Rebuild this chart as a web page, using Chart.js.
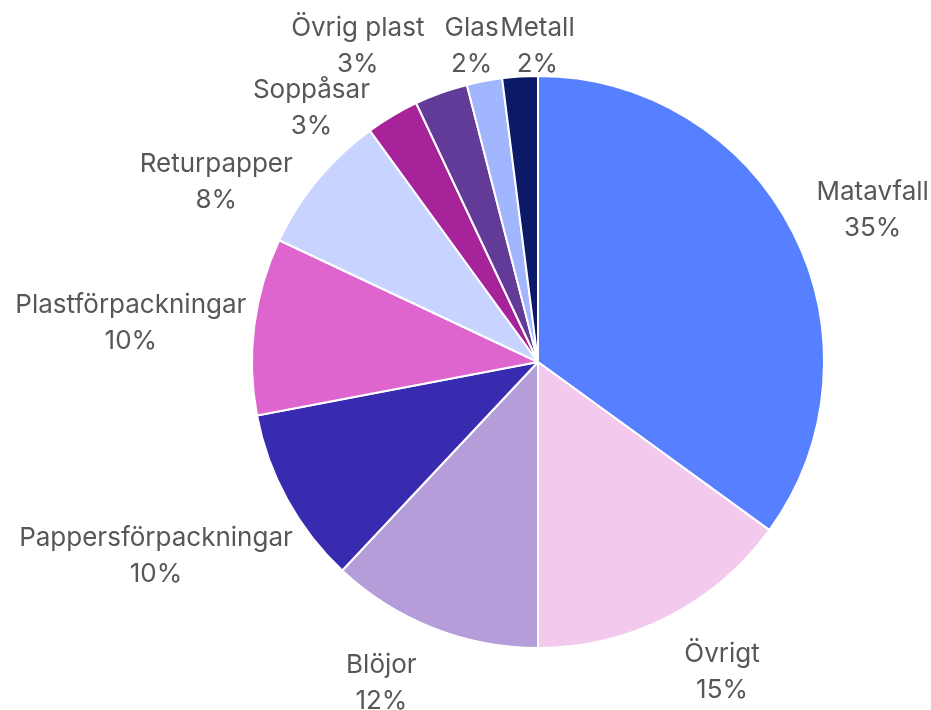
<!DOCTYPE html>
<html>
<head>
<meta charset="utf-8">
<script src="https://cdn.jsdelivr.net/npm/chart.js@4/dist/chart.umd.min.js"></script>
<style>
html,body{margin:0;padding:0;background:#fff;}
#wrap{width:931px;height:710px;position:relative;}
</style>
</head>
<body>
<div id="wrap"><canvas id="c" width="931" height="710"></canvas></div>
<script>
const categories = ["Matavfall","Övrigt","Blöjor","Pappersförpackningar","Plastförpackningar","Returpapper","Soppåsar","Övrig plast","Glas","Metall"];
const values = [35,15,12,10,10,8,3,3,2,2];
const colors = ["#5680FF","#F3CAEE","#B49DD8","#392BB0","#DE64CE","#C8D4FF","#A6239A","#623A98","#A2B5FF","#0B1966"];
// per-label nudges (pixels) applied after the radial placement
const labelNudges = [[12,-2],[28,11],[-31,9],[6,32],[11,1],[-27,31],[-41,32],[-54,-4],[-4,10],[21,15]];

const outsideLabels = {
  id:'outsideLabels',
  afterDatasetsDraw(chart, args, opts){
    const ctx = chart.ctx;
    const meta = chart.getDatasetMeta(0);
    const total = values.reduce((a,b)=>a+b,0);
    ctx.save();
    ctx.font = '26px Inter, "Noto Sans", sans-serif';
    ctx.fillStyle = '#575757';
    ctx.textAlign = 'center';
    ctx.textBaseline = 'alphabetic';
    const lh = 36, cap = 19;
    meta.data.forEach((arc,i)=>{
      const p = arc.getProps(['x','y','startAngle','endAngle','outerRadius'], true);
      const mid = (p.startAngle + p.endAngle)/2;
      const c = Math.cos(mid), s = Math.sin(mid);
      const l1 = chart.data.labels[i];
      const l2 = Math.round(values[i]/total*100) + '%';
      const w = Math.max(ctx.measureText(l1).width, ctx.measureText(l2).width);
      const h = lh + cap;
      const g = opts.gap;
      let x = p.x + (p.outerRadius + g)*c + c*w/2;
      let y = p.y + (p.outerRadius + g)*s + s*h/2;
      x += labelNudges[i][0]; y += labelNudges[i][1];
      ctx.fillText(l1, x, y - lh/2 + cap/2);
      ctx.fillText(l2, x, y + lh/2 + cap/2);
    });
    ctx.restore();
  }
};

new Chart(document.getElementById('c'), {
  type:'pie',
  data:{labels:categories, datasets:[{data:values, backgroundColor:colors, borderColor:'#ffffff', borderWidth:2, hoverOffset:0}]},
  options:{
    responsive:false, animation:false,
    layout:{padding:{left:251,right:106,top:75,bottom:61}},
    plugins:{legend:{display:false}, tooltip:{enabled:false}, outsideLabels:{gap:20}}
  },
  plugins:[outsideLabels]
});
</script>
</body>
</html>
